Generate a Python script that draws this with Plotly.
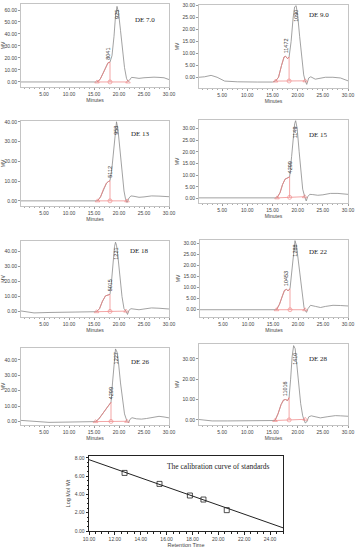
import numpy as np
import plotly.graph_objects as go

W, H = 356, 550

# ---------------- chromatogram data (Minutes vs MV) ----------------
de70_t = [0.4, 5, 10, 15.0, 15.6, 16.2, 16.8, 17.4, 17.8, 18.2, 18.6, 19.0, 19.3, 19.6, 19.9, 20.3, 20.7, 21.1, 21.5, 21.8, 22.1, 22.5, 23.0, 24.0, 25.0, 26.0, 27.0, 28.0, 29.0, 30.0]
de70_mv = [0, 0, 0, 0, 0, 2, 7, 13, 16, 16.5, 22, 38, 55, 63, 58, 43, 26, 12, 3, 0.3, 1.5, 3.8, 3.6, 3.0, 3.5, 4.0, 4.0, 3.8, 3.5, 2.0]
de70_cut = [15.6, 18.2, 21.8]
de70_base = [0, 0]
de70_peaks = ["8041", "925"]
de70_peak_t = [17.8, 19.6]

de90_t = [0.4, 1.5, 2.8, 4.0, 5.5, 8, 12, 15.0, 15.6, 16.2, 16.8, 17.3, 17.6, 18.0, 18.3, 18.7, 19.1, 19.4, 19.7, 20.0, 20.4, 20.8, 21.2, 21.5, 21.8, 22.2, 22.6, 23.5, 24.5, 25.5, 27, 28.5, 30]
de90_mv = [0, 0.2, 0.8, 0, -1.6, -1.9, -2.0, -2.0, -1.6, 0, 5, 8.5, 8.8, 7.8, 8.5, 15, 25, 29.5, 30, 26, 17, 8, 1, -1.5, -3.0, -0.3, 0.2, -0.8, -0.5, 0, 0, -0.3, -1.5]
de90_cut = [15.6, 18.3, 21.5]
de90_base = [-1.6, -1.5]
de90_peaks = ["11472", "1090"]
de90_peak_t = [17.6, 19.7]

de13_t = [0.4, 5, 10, 15.0, 15.7, 16.3, 16.9, 17.5, 17.9, 18.2, 18.6, 19.0, 19.3, 19.5, 19.8, 20.2, 20.6, 21.0, 21.3, 21.6, 22.0, 22.4, 23.0, 24.0, 25.0, 26.5, 28.0, 30.0]
de13_mv = [0, 0, 0, 0, 0, 2, 6, 9, 9.8, 10.2, 17, 29, 38, 40, 36, 25, 14, 5, 1, -0.8, 1.5, 2.5, 2.3, 1.8, 2.0, 2.5, 2.4, 2.1]
de13_cut = [15.7, 18.2, 21.6]
de13_base = [0, 0]
de13_peaks = ["5112", "958"]
de13_peak_t = [18.2, 19.5]

de15_t = [0.4, 5, 10, 15.2, 15.9, 16.5, 17.0, 17.5, 18.0, 18.4, 18.8, 19.1, 19.4, 19.6, 19.9, 20.3, 20.7, 21.0, 21.4, 21.7, 22.0, 22.4, 23.0, 24.0, 25.0, 26.5, 28.0, 30.0]
de15_mv = [0.3, 0.3, 0.3, 0.3, 0.3, 2.5, 6, 8.3, 8.8, 9.3, 18, 27, 32, 33.3, 30, 20, 10, 4, 0.8, -1, 0.8, 1.8, 1.7, 1.4, 1.6, 2.2, 2.2, 1.8]
de15_cut = [15.9, 18.4, 21.4]
de15_base = [0.3, 0.8]
de15_peaks = ["4299", "1149"]
de15_peak_t = [18.4, 19.5]

de18_t = [0.4, 3, 6, 10, 15.0, 15.5, 16.1, 16.7, 17.3, 17.8, 18.2, 18.5, 18.8, 19.1, 19.3, 19.5, 19.8, 20.2, 20.6, 21.0, 21.4, 21.7, 22.0, 22.4, 23.0, 24.0, 25.0, 26.5, 28.0, 30.0]
de18_mv = [0.5, -0.8, -0.5, -0.3, 0, 0, 2, 7, 10.5, 11, 11.5, 20, 33, 43, 46, 44, 36, 22, 10, 2, 0.4, -1.8, 1.0, 2, 1.8, 1.3, 1.8, 2.5, 2.3, 1.8]
de18_cut = [15.5, 18.2, 21.4]
de18_base = [0, 0.4]
de18_peaks = ["5015", "1221"]
de18_peak_t = [18.2, 19.4]

de22_t = [0.4, 5, 10, 15.0, 15.7, 16.3, 16.9, 17.3, 17.7, 18.0, 18.4, 18.7, 19.0, 19.2, 19.4, 19.7, 20.1, 20.5, 20.9, 21.2, 21.4, 21.7, 22.0, 22.5, 23.5, 24.5, 25.5, 27.0, 28.5, 30.0]
de22_mv = [0, 0, 0, 0, 0, 2.5, 6.5, 8.8, 9.2, 8.6, 9.5, 16, 25, 29.5, 31.3, 29, 21, 12, 4, 1, -0.2, -1.2, 0.5, 2, 1.5, 1.0, 1.5, 2.0, 1.9, 1.7]
de22_cut = [15.7, 18.4, 21.4]
de22_base = [0, 0]
de22_peaks = ["10453", "1288"]
de22_peak_t = [17.6, 19.4]

de26_t = [0.3, 3, 6, 10, 15.0, 15.3, 15.9, 16.5, 17.1, 17.7, 18.4, 18.7, 19.0, 19.3, 19.6, 19.9, 20.3, 20.7, 21.1, 21.6, 21.9, 22.2, 22.6, 23.5, 24.5, 25.5, 27.0, 28.0, 29.0, 30.0]
de26_mv = [0.8, 0, -0.5, -0.3, 0, 0, 1.5, 4, 7, 9.5, 12.5, 25, 39, 47, 45, 38, 25, 13, 5, 0.2, -0.8, 1.5, 2.5, 1.8, 1.6, 2.0, 2.8, 3.4, 3.0, 2.4]
de26_cut = [15.3, 18.4, 21.6]
de26_base = [0, 0.2]
de26_peaks = ["4299", "1227"]
de26_peak_t = [18.4, 19.3]

de28_t = [0.4, 3, 6, 10, 15.0, 15.5, 16.1, 16.7, 17.2, 17.6, 18.0, 18.3, 18.6, 18.9, 19.2, 19.5, 19.8, 20.2, 20.6, 21.0, 21.3, 21.5, 21.8, 22.2, 22.7, 23.5, 24.5, 26.0, 27.5, 28.5, 30.0]
de28_mv = [0.2, -0.5, -0.5, -0.5, -0.5, -0.3, 3, 7.5, 9.8, 10, 9.5, 11, 20, 31, 36.5, 35, 28, 17, 8, 2, 0.3, -1.5, -1.0, 1.5, 2.0, 1.5, 1.0, 1.6, 2.1, 2.0, 1.8]
de28_cut = [15.5, 18.3, 21.5]
de28_base = [-0.3, 0.3]
de28_peaks = ["11016", "1410"]
de28_peak_t = [17.5, 19.5]

minute_ticks = [5, 10, 15, 20, 25, 30]

# ---------------- calibration data ----------------
cal_rt = [12.75, 15.45, 17.8, 18.85, 20.65]
cal_logmw = [6.35, 5.15, 3.88, 3.44, 2.28]
fit_rt = [10.0, 25.0]
fit_logmw = [7.8, 0.35]
cal_xticks = [10, 12, 14, 16, 18, 20, 22, 24]
cal_yticks = [0, 2, 4, 6, 8]

# ---------------- layout per panel (pixels) ----------------
panels = [
    dict(name="DE 7.0", t=de70_t, mv=de70_mv, cut=de70_cut, base=de70_base, labels=de70_peaks, lt=de70_peak_t,
         px=(21, 169, 4, 87), yr=(-4.2, 65), dy=10, de=(25.2, 52)),
    dict(name="DE 9.0", t=de90_t, mv=de90_mv, cut=de90_cut, base=de90_base, labels=de90_peaks, lt=de90_peak_t,
         px=(199, 348, 5, 88), yr=(-4.5, 30.3), dy=5, de=(24.3, 26)),
    dict(name="DE 13", t=de13_t, mv=de13_mv, cut=de13_cut, base=de13_base, labels=de13_peaks, lt=de13_peak_t,
         px=(21, 169, 121, 206), yr=(-2.6, 40.4), dy=10, de=(24.3, 34)),
    dict(name="DE 15", t=de15_t, mv=de15_mv, cut=de15_cut, base=de15_base, labels=de15_peaks, lt=de15_peak_t,
         px=(199, 348, 120, 203), yr=(-1.9, 33.6), dy=5, de=(24.2, 27.2)),
    dict(name="DE 18", t=de18_t, mv=de18_mv, cut=de18_cut, base=de18_base, labels=de18_peaks, lt=de18_peak_t,
         px=(21, 169, 241, 317), yr=(-3.5, 46.8), dy=10, de=(24.0, 40.2)),
    dict(name="DE 22", t=de22_t, mv=de22_mv, cut=de22_cut, base=de22_base, labels=de22_peaks, lt=de22_peak_t,
         px=(200, 348, 240, 317), yr=(-3.3, 31.6), dy=5, de=(24.1, 26)),
    dict(name="DE 26", t=de26_t, mv=de26_mv, cut=de26_cut, base=de26_base, labels=de26_peaks, lt=de26_peak_t,
         px=(21, 169, 348, 425), yr=(-2.2, 47.6), dy=10, de=(24.3, 38.3)),
    dict(name="DE 28", t=de28_t, mv=de28_mv, cut=de28_cut, base=de28_base, labels=de28_peaks, lt=de28_peak_t,
         px=(199, 348, 344, 425), yr=(-2.5, 37.3), dy=10, de=(24.2, 29.9)),
]

GRAY = "#8a8a8a"
RED = "#ee8080"
FRAME = "#c4c4c4"
TXT = "#444444"
SANS = "Liberation Sans, Arial, sans-serif"
SERIF = "Liberation Serif, Times New Roman, serif"

fig = go.Figure()
layout = dict(width=W, height=H, margin=dict(l=0, r=0, t=0, b=0),
              paper_bgcolor="white", plot_bgcolor="white", showlegend=False)
annotations = []


def dom(px):
    x0, x1, y0, y1 = px
    return [x0 / W, x1 / W], [1 - y1 / H, 1 - y0 / H]


for i, p in enumerate(panels):
    k = "" if i == 0 else str(i + 1)
    xa, ya = "x" + k, "y" + k
    xd, yd = dom(p["px"])
    t = np.array(p["t"], dtype=float)
    mv = np.array(p["mv"], dtype=float)
    c0, c1, c2 = p["cut"]
    b0, b1 = p["base"]
    bsplit = b0 + (b1 - b0) * (c1 - c0) / (c2 - c0)
    msplit = float(np.interp(c1, t, mv))

    fig.add_trace(go.Scatter(x=t, y=mv, mode="lines", line=dict(color=GRAY, width=0.8),
                             xaxis=xa, yaxis=ya, hoverinfo="skip"))
    sel = (t >= c0) & (t <= c1)
    fig.add_trace(go.Scatter(x=t[sel], y=mv[sel], mode="lines", line=dict(color=RED, width=0.8),
                             xaxis=xa, yaxis=ya, hoverinfo="skip"))
    fig.add_trace(go.Scatter(x=[c0, c2], y=[b0, b1], mode="lines", line=dict(color=RED, width=0.7),
                             xaxis=xa, yaxis=ya, hoverinfo="skip"))
    fig.add_trace(go.Scatter(x=[c1, c1], y=[bsplit, msplit], mode="lines", line=dict(color=RED, width=0.7),
                             xaxis=xa, yaxis=ya, hoverinfo="skip"))
    fig.add_trace(go.Scatter(x=[c0, c1, c2], y=[b0, bsplit, b1], mode="markers",
                             marker=dict(symbol=["triangle-up-open", "circle-open", "triangle-up-open"],
                                         size=4, color=RED, line=dict(width=0.6, color=RED)),
                             xaxis=xa, yaxis=ya, hoverinfo="skip"))

    layout["xaxis" + k] = dict(domain=xd, anchor=ya, range=[0.4, 30],
                               tickvals=minute_ticks, ticktext=["%.2f" % v for v in minute_ticks],
                               ticks="outside", ticklen=2, tickwidth=0.6, tickcolor="#999",
                               minor=dict(ticks="outside", ticklen=1.2, dtick=1, tick0=0, tickcolor="#aaa", tickwidth=0.5),
                               showline=True, linecolor=FRAME, linewidth=1, mirror=True,
                               showgrid=False, zeroline=False,
                               tickfont=dict(size=5, family=SANS, color=TXT),
                               title=dict(text="Minutes", font=dict(size=5, family=SANS, color=TXT), standoff=1),
                               automargin=False, fixedrange=True)
    yt = list(np.arange(0, p["yr"][1] + 1e-9, p["dy"]))
    layout["yaxis" + k] = dict(domain=yd, anchor=xa, range=list(p["yr"]),
                               tickvals=yt, ticktext=["%.2f" % v for v in yt],
                               ticks="outside", ticklen=2, tickwidth=0.6, tickcolor="#999",
                               showline=True, linecolor=FRAME, linewidth=1, mirror=True,
                               showgrid=False, zeroline=False,
                               tickfont=dict(size=5, family=SANS, color=TXT),
                               title=dict(text="MV", font=dict(size=5, family=SANS, color=TXT), standoff=2),
                               automargin=False, fixedrange=True)

    ts, tp = p["lt"]
    ys = float(np.interp(ts, t, mv))
    yp = float(np.interp(tp, t, mv))
    annotations.append(dict(x=ts, y=ys, xref=xa, yref=ya, text=p["labels"][0], textangle=-90,
                            showarrow=False, xanchor="center", yanchor="bottom", yshift=1,
                            font=dict(size=5.5, family=SANS, color="#333")))
    annotations.append(dict(x=tp, y=yp, xref=xa, yref=ya, text=p["labels"][1], textangle=-90,
                            showarrow=False, xanchor="center", yanchor="top", yshift=-2,
                            font=dict(size=5.5, family=SANS, color="#333")))
    annotations.append(dict(x=p["de"][0], y=p["de"][1], xref=xa, yref=ya, text=p["name"],
                            showarrow=False, xanchor="center", yanchor="middle",
                            font=dict(size=7, family=SERIF, color="#222")))

# ---------------- calibration panel ----------------
xd, yd = dom((89, 283, 456, 531))
fig.add_trace(go.Scatter(x=fit_rt, y=fit_logmw, mode="lines", line=dict(color="#222", width=1),
                         xaxis="x9", yaxis="y9", hoverinfo="skip"))
fig.add_trace(go.Scatter(x=cal_rt, y=cal_logmw, mode="markers",
                         marker=dict(symbol="square-open", size=5, color="#222", line=dict(width=0.8, color="#222")),
                         xaxis="x9", yaxis="y9", hoverinfo="skip"))
layout["xaxis9"] = dict(domain=xd, anchor="y9", range=[10, 25],
                        tickvals=cal_xticks, ticktext=["%.2f" % v for v in cal_xticks],
                        ticks="outside", ticklen=2.5, tickwidth=0.7, tickcolor="#222",
                        minor=dict(ticks="outside", ticklen=1.5, dtick=0.5, tick0=10, tickcolor="#222", tickwidth=0.5),
                        showline=True, linecolor="#222", linewidth=1, mirror=True,
                        showgrid=False, zeroline=False,
                        tickfont=dict(size=5, family=SANS, color=TXT),
                        title=dict(text="Retention Time", font=dict(size=5.5, family=SANS, color=TXT), standoff=2),
                        automargin=False, fixedrange=True)
layout["yaxis9"] = dict(domain=yd, anchor="x9", range=[0, 8.2],
                        tickvals=cal_yticks, ticktext=["%.2f" % v for v in cal_yticks],
                        ticks="outside", ticklen=2.5, tickwidth=0.7, tickcolor="#222",
                        minor=dict(ticks="outside", ticklen=1.5, dtick=0.5, tick0=0, tickcolor="#222", tickwidth=0.5),
                        showline=True, linecolor="#222", linewidth=1, mirror=True,
                        showgrid=False, zeroline=False,
                        tickfont=dict(size=5, family=SANS, color=TXT),
                        title=dict(text="Log Mol Wt", font=dict(size=5.5, family=SANS, color=TXT), standoff=3),
                        automargin=False, fixedrange=True)
annotations.append(dict(x=20.05, y=7.1, xref="x9", yref="y9", text="The calibration curve of standards",
                        showarrow=False, xanchor="center", yanchor="middle",
                        font=dict(size=7.5, family=SERIF, color="#222")))

layout["annotations"] = annotations
fig.update_layout(**layout)
fig.write_html("out.html", config={"displayModeBar": False},
               post_script="document.body.style.margin='0';document.body.style.overflow='hidden';")
